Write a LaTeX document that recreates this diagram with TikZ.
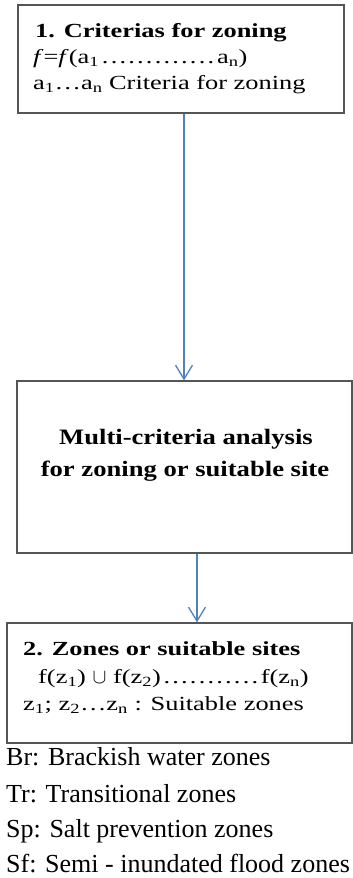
\documentclass[tikz,border=0pt]{standalone}
\usepackage{fontspec}
\setmainfont{Liberation Serif}
\newfontfamily\boxfont[FakeStretch=1.32]{Liberation Serif}
\newfontfamily\midfont[FakeStretch=1.21]{Liberation Serif}
\usetikzlibrary{arrows.meta}
\definecolor{arrowblue}{RGB}{79,129,189}
\definecolor{boxgray}{RGB}{85,85,85}
\newcommand{\sz}[1]{\fontsize{#1}{#1}\selectfont}
\newcommand{\dotrun}[1]{\makebox[#1]{\dotfill}}
\begin{document}
\begin{tikzpicture}[x=1pt,y=-1pt,
    box/.style={draw=boxgray,line width=1.3pt,inner sep=0pt},
    txt/.style={anchor=base west,inner sep=0pt},
    flow/.style={draw=arrowblue,line width=1.3pt,-{Straight Barb[length=14pt,width=17pt,line width=1.3pt]}}]
    \useasboundingbox (0,0) rectangle (353,878);
    % boxes
    \node[box,minimum width=326pt,minimum height=108pt] (crit) at (181,59) {};
    \node[box,minimum width=335pt,minimum height=172pt] (mca) at (184.5,467) {};
    \node[box,minimum width=345pt,minimum height=120pt] (zones) at (179.5,683) {};
    % criteria box
    \node[txt,font=\boxfont\bfseries\sz{20}] (c1) at (35,37) {1. Criterias for zoning};
    \node[txt,font=\boxfont\sz{20}] (c2) at (33,63) {\textit{f}=\textit{f}(a\textsubscript{1}\dotrun{118pt}a\textsubscript{n})};
    \node[txt,font=\boxfont\sz{20}] (c3) at (33,89) {a\textsubscript{1}\dots a\textsubscript{n} Criteria for zoning};
    % analysis box
    \node[anchor=base,inner sep=0pt,font=\midfont\bfseries\sz{22}] (m1) at (186,444) {Multi-criteria analysis};
    \node[anchor=base,inner sep=0pt,font=\midfont\bfseries\sz{22}] (m2) at (185,476) {for zoning or suitable site};
    % zones box
    \node[txt,font=\boxfont\bfseries\sz{20}] (z1) at (23,655) {2. Zones or suitable sites};
    \node[txt,font=\boxfont\sz{20}] (z2) at (38,683) {f(z\textsubscript{1}) $\cup$ f(z\textsubscript{2})\dotrun{100pt}f(z\textsubscript{n})};
    \node[txt,font=\boxfont\sz{20}] (z3) at (23,710) {z\textsubscript{1}; z\textsubscript{2}\dots z\textsubscript{n} : Suitable zones};
    % legend
    \node[txt,font=\sz{26}] (br) at (6,765) {Br: Brackish water zones};
    \node[txt,font=\sz{26}] (tr) at (6,802) {Tr: Transitional zones};
    \node[txt,font=\sz{26}] (sp) at (6,837) {Sp: Salt prevention zones};
    \node[txt,font=\sz{26}] (sf) at (6,872) {Sf: Semi - inundated flood zones};
    % arrows
    \draw[flow] ([xshift=3pt]crit.south) -- ([xshift=3pt]crit.south |- mca.north);
    \draw[flow] ([xshift=12.5pt]mca.south) -- ([xshift=12.5pt]mca.south |- zones.north);
\end{tikzpicture}
\end{document}
